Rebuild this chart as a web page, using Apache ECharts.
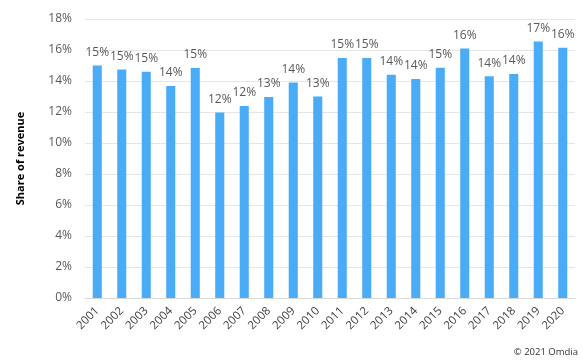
<!DOCTYPE html>
<html>
<head>
<meta charset="utf-8">
<script src="https://cdn.jsdelivr.net/npm/echarts@6/dist/echarts.min.js"></script>
<style>html,body{margin:0;padding:0;background:#fff}#c{width:583px;height:363px}</style>
</head>
<body>
<div id="c"></div>
<script>
const years = ['2001','2002','2003','2004','2005','2006','2007','2008','2009','2010','2011','2012','2013','2014','2015','2016','2017','2018','2019','2020'];
const shareOfRevenue = [15.0,14.75,14.6,13.68,14.84,11.97,12.39,12.97,13.91,13.0,15.48,15.48,14.4,14.13,14.86,16.1,14.3,14.45,16.55,16.15];
const yTicks = [0,2,4,6,8,10,12,14,16,18];

const chart = echarts.init(document.getElementById('c'), null, {renderer:'canvas'});
chart.setOption({
  animation:false,
  backgroundColor:'#fff',
  textStyle:{fontFamily:'Open Sans'},
  grid:{left:85, right:8, top:19, bottom:65, containLabel:false},
  graphic:[{type:'text', right:5, bottom:6, style:{text:'© 2021 Omdia', fill:'#333', font:'9.5px "Open Sans"'}}],
  xAxis:{
    type:'category', data:years,
    axisLine:{lineStyle:{color:'#d9d9d9'}},
    axisTick:{show:false},
    axisLabel:{rotate:45, color:'#404040', fontSize:11.5, margin:11, interval:0}
  },
  yAxis:{
    type:'value', min:yTicks[0], max:yTicks[yTicks.length-1], interval:2,
    name:'Share of revenue', nameLocation:'middle', nameGap:59, nameRotate:90,
    nameTextStyle:{fontWeight:'bold', fontSize:11, color:'#000'},
    axisLine:{show:false}, axisTick:{show:false},
    axisLabel:{formatter:'{value}%', color:'#595959', fontSize:12, margin:13},
    splitLine:{lineStyle:{color:'#e6e6e6'}}
  },
  series:[{
    type:'bar', data:shareOfRevenue, barWidth:'37%',
    itemStyle:{color:'#4aabf7'},
    label:{show:true, position:'top', distance:7, color:'#595959', fontSize:12,
      formatter:p=>Math.round(p.value)+'%'}
  }]
});
</script>
</body>
</html>
